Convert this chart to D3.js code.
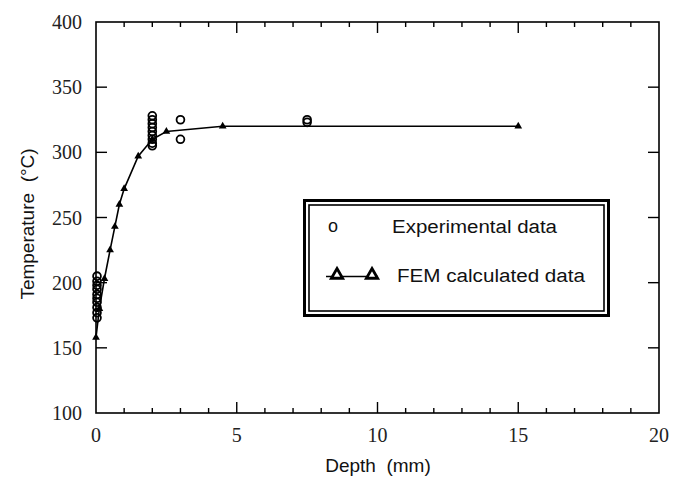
<!DOCTYPE html>
<html>
<head>
<meta charset="utf-8">
<script src="https://cdn.jsdelivr.net/npm/d3@7"></script>
<style>
  html, body { margin: 0; padding: 0; background: #fff; }
  svg { display: block; }
</style>
</head>
<body>
<svg id="chart" width="686" height="483"></svg>
<script>
// ---- data ----
const xTicks = [0, 5, 10, 15, 20];
const yTicks = [100, 150, 200, 250, 300, 350, 400];

const femDepth = [0, 0.12, 0.3, 0.5, 0.67, 0.83, 1.0, 1.5, 2.0, 2.5, 4.5, 15];
const femTemp  = [158, 180, 203, 225, 243, 260, 272, 297, 310, 316, 320, 320];

const expDepth = [0, 0, 0, 0, 0, 0, 0, 0, 0, 0,
                  2, 2, 2, 2, 2, 2, 2, 2, 2,
                  3, 3, 7.5, 7.5];
const expTemp  = [205, 201, 198, 195, 191, 188, 185, 181, 177, 173,
                  328, 325, 322, 319, 316, 313, 310, 307, 305,
                  325, 310, 323, 325];

const legendLabels = ["Experimental data", "FEM calculated data"];

// ---- layout ----
const svg = d3.select("#chart");
const L = 96, R = 659, T = 22, B = 413;
const x = d3.scaleLinear().domain([0, 20]).range([L, R]);
const y = d3.scaleLinear().domain([100, 400]).range([B, T]);

const serif = "'Liberation Serif', 'Times New Roman', serif";
const sans = "'Liberation Sans', Arial, Helvetica, sans-serif";

// frame
svg.append("rect").attr("x", L).attr("y", T).attr("width", R - L).attr("height", B - T)
  .attr("fill", "none").attr("stroke", "#000").attr("stroke-width", 1.6);

// minor + major x ticks (bottom & top)
const xMinor = d3.range(0, 21, 1);
const tickG = svg.append("g").attr("stroke", "#000").attr("stroke-width", 1.4);
xMinor.forEach(v => {
  if (v === 0 || v === 20) return;
  const len = (v % 5 === 0) ? 11 : 5;
  tickG.append("line").attr("x1", x(v)).attr("x2", x(v)).attr("y1", B).attr("y2", B - len);
  tickG.append("line").attr("x1", x(v)).attr("x2", x(v)).attr("y1", T).attr("y2", T + len);
});
// y ticks (left & right)
yTicks.forEach(v => {
  if (v === 100 || v === 400) return;
  tickG.append("line").attr("x1", L).attr("x2", L + 11).attr("y1", y(v)).attr("y2", y(v));
  tickG.append("line").attr("x1", R).attr("x2", R - 11).attr("y1", y(v)).attr("y2", y(v));
});

// tick labels
svg.append("g").selectAll("text").data(xTicks).join("text")
  .attr("x", d => x(d)).attr("y", B + 29)
  .attr("text-anchor", "middle")
  .attr("font-family", serif).attr("font-size", 20).attr("fill", "#222")
  .text(d => d);
svg.append("g").selectAll("text").data(yTicks).join("text")
  .attr("x", L - 14).attr("y", d => y(d) + 7)
  .attr("text-anchor", "end")
  .attr("font-family", serif).attr("font-size", 20).attr("fill", "#222")
  .text(d => d);

// axis titles
svg.append("text").attr("x", 378).attr("y", 472)
  .attr("text-anchor", "middle").attr("font-family", sans).attr("font-size", 19)
  .attr("fill", "#111").attr("xml:space", "preserve")
  .text("Depth  (mm)");
svg.append("text")
  .attr("transform", "translate(34,224) rotate(-90)")
  .attr("text-anchor", "middle").attr("font-family", sans).attr("font-size", 19)
  .attr("fill", "#111").attr("xml:space", "preserve")
  .text("Temperature  (\u00B0C)");

// FEM line
const fem = femDepth.map((d, i) => ({x: d, y: femTemp[i]}));
svg.append("path").datum(fem)
  .attr("fill", "none").attr("stroke", "#000").attr("stroke-width", 1.6)
  .attr("d", d3.line().x(d => x(d.x)).y(d => y(d.y)));

// FEM markers
svg.append("g").selectAll("path").data(fem).join("path")
  .attr("transform", d => `translate(${x(d.x)},${y(d.y)})`)
  .attr("d", d3.symbol(d3.symbolTriangle, 26))
  .attr("fill", "#000");

// experimental circles
const exp = expDepth.map((d, i) => ({x: d, y: expTemp[i]}));
svg.append("g").selectAll("circle").data(exp).join("circle")
  .attr("cx", d => x(d.x) + (d.x === 0 ? 1 : 0)).attr("cy", d => y(d.y)).attr("r", 3.9)
  .attr("fill", "none").attr("stroke", "#000").attr("stroke-width", 1.8);

// legend
const lg = svg.append("g");
lg.append("rect").attr("x", 304.5).attr("y", 200.5).attr("width", 304).attr("height", 115)
  .attr("fill", "#fff").attr("stroke", "#000").attr("stroke-width", 3);
lg.append("rect").attr("x", 309).attr("y", 205).attr("width", 295).attr("height", 106)
  .attr("fill", "none").attr("stroke", "#000").attr("stroke-width", 1.6);
lg.append("text").attr("x", 333).attr("y", 232).attr("text-anchor", "middle")
  .attr("font-family", sans).attr("font-size", 18).attr("fill", "#111").text("o");
lg.append("text").attr("x", 392).attr("y", 233)
  .attr("font-family", sans).attr("font-size", 18).attr("fill", "#111")
  .attr("textLength", 165).attr("lengthAdjust", "spacingAndGlyphs")
  .text(legendLabels[0]);
lg.append("line").attr("x1", 326).attr("x2", 378).attr("y1", 276.5).attr("y2", 276.5)
  .attr("stroke", "#000").attr("stroke-width", 1.6);
[337, 372].forEach(px => {
  lg.append("path").attr("transform", `translate(${px},${275})`)
    .attr("d", d3.symbol(d3.symbolTriangle, 55))
    .attr("fill", "#fff").attr("stroke", "#000").attr("stroke-width", 2.8);
});
lg.append("text").attr("x", 397).attr("y", 282)
  .attr("font-family", sans).attr("font-size", 18).attr("fill", "#111")
  .attr("textLength", 188).attr("lengthAdjust", "spacingAndGlyphs")
  .text(legendLabels[1]);
</script>
</body>
</html>
